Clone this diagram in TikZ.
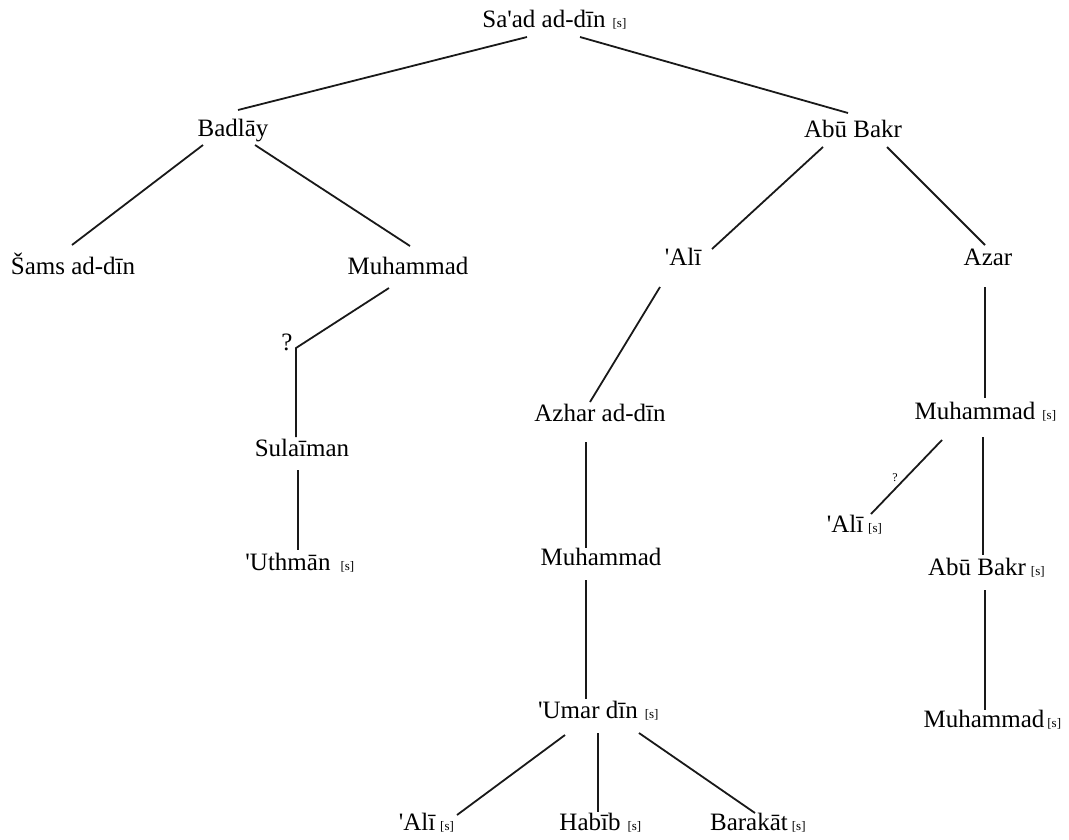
\documentclass[tikz,border=0pt]{standalone}
\usepackage{fontspec}
\setmainfont{Liberation Serif}
\usetikzlibrary{calc}
\newcommand\ap{\textquotesingle}
\tikzset{
  nm/.style={anchor=base, inner sep=0pt, outer sep=0pt, font=\fontsize{25}{28}\selectfont},
  sm/.style={anchor=base west, inner sep=0pt, outer sep=0pt, font=\fontsize{13}{14}\selectfont},
  qs/.style={anchor=base, inner sep=0pt, font=\fontsize{12}{13}\selectfont},
  ln/.style={line width=1.8pt, black!90}
}
\begin{document}
\begin{tikzpicture}[x=1pt,y=-1pt]
\useasboundingbox (0,0) rectangle (1069,839);
% names
\node[nm] (saad) at (544,27) {Sa\ap ad ad-dīn};
\node[sm] (saads) at ([xshift=7pt]saad.base east) {[s]};
\node[nm] (badlay) at (233,136) {Badlāy};
\node[nm] (abu) at (853,137) {Abū Bakr};
\node[nm] (sams) at (73,274) {Šams ad-dīn};
\node[nm] (muhl) at (408,274) {Muhammad};
\node[nm] (ali) at (683,265) {\ap Alī};
\node[nm] (azar) at (988,265) {Azar};
\coordinate (q1) at (296,348);
\node[nm] (qm) at (287,350) {?};
\node[nm] (sul) at (302,456) {Sulaīman};
\node[nm] (uth) at (288,570) {\ap Uthmān};
\node[sm] (uths) at ([xshift=10pt]uth.base east) {[s]};
\node[nm] (azh) at (600,421) {Azhar ad-dīn};
\node[nm] (muhc) at (601,565) {Muhammad};
\node[nm] (umar) at (588,718) {\ap Umar dīn};
\node[sm] (umars) at ([xshift=7pt]umar.base east) {[s]};
\node[nm] (alib) at (417,830) {\ap Alī};
\node[sm] (alibs) at ([xshift=5pt]alib.base east) {[s]};
\node[nm] (hab) at (590,830) {Habīb};
\node[sm] (habs) at ([xshift=7pt]hab.base east) {[s]};
\node[nm] (bar) at (749,830) {Barakāt};
\node[sm] (bars) at ([xshift=4pt]bar.base east) {[s]};
\node[nm] (muhr) at (975,419) {Muhammad};
\node[sm] (muhrs) at ([xshift=7pt]muhr.base east) {[s]};
\node[nm] (alir) at (845,532) {\ap Alī};
\node[sm] (alirs) at ([xshift=5pt]alir.base east) {[s]};
\node[qs] (qm2) at (895,481) {?};
\node[nm] (abur) at (977,575) {Abū Bakr};
\node[sm] (aburs) at ([xshift=5pt]abur.base east) {[s]};
\node[nm] (muhb) at (984,727) {Muhammad};
\node[sm] (muhbs) at ([xshift=3pt]muhb.base east) {[s]};
% connectors
\draw[ln] ($(saad.base)+(-17,10)$) -- ($(badlay.base)+(5,-26)$);
\draw[ln] ($(saad.base)+(36,10)$) -- ($(abu.base)+(-5,-24)$);
\draw[ln] ($(badlay.base)+(-30,9)$) -- ($(sams.base)+(-1,-29)$);
\draw[ln] ($(badlay.base)+(22,9)$) -- ($(muhl.base)+(2,-28)$);
\draw[ln] ($(abu.base)+(-30,10)$) -- ($(ali.base)+(29,-16)$);
\draw[ln] ($(abu.base)+(34,10)$) -- ($(azar.base)+(-3,-20)$);
\draw[ln] ($(muhl.base)+(-19,14)$) -- (q1) -- ($(sul.base)+(-6,-19)$);
\draw[ln] ($(sul.base)+(-4,14)$) -- ($(uth.base)+(10,-20)$);
\draw[ln] ($(ali.base)+(-23,22)$) -- ($(azh.base)+(-10,-19)$);
\draw[ln] ($(azh.base)+(-14,21)$) -- ($(muhc.base)+(-15,-17)$);
\draw[ln] ($(muhc.base)+(-15,15)$) -- ($(umar.base)+(-2,-19)$);
\draw[ln] ($(umar.base)+(-23,17)$) -- ($(alib.base)+(40,-15)$);
\draw[ln] ($(umar.base)+(10,15)$) -- ($(hab.base)+(8,-18)$);
\draw[ln] ($(umar.base)+(51,15)$) -- ($(bar.base)+(6,-17)$);
\draw[ln] ($(azar.base)+(-3,22)$) -- ($(muhr.base)+(10,-21)$);
\draw[ln] ($(muhr.base)+(-33,21)$) -- ($(alir.base)+(26,-18)$);
\draw[ln] ($(muhr.base)+(8,18)$) -- ($(abur.base)+(6,-20)$);
\draw[ln] ($(abur.base)+(8,15)$) -- ($(muhb.base)+(1,-17)$);
\end{tikzpicture}
\end{document}
